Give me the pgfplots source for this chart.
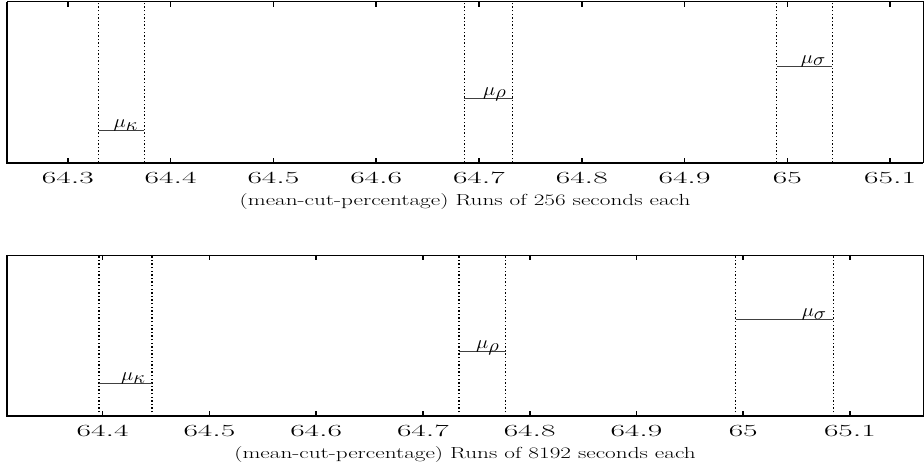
\RequirePackage{fix-cm}
\documentclass[border=0pt]{standalone}
\usepackage{pgfplots}
\pgfplotsset{compat=1.18}
\usepackage{graphicx}
\pgfplotsset{
  myax/.style={
    anchor=south west, scale only axis, width=916pt, height=161pt,
    ymin=0, ymax=1, ytick=\empty,
    axis line style={line width=0.6pt},
    tick align=inside, xtick pos=both,
    major tick length=5pt,
    every tick/.style={line width=1.6pt, black},
    xticklabel={\scalebox{1.85}[1]{\fontsize{17}{20}\selectfont\pgfmathprintnumber[fixed,precision=1]{\tick}}},
    xticklabel style={yshift=-6pt},
    xlabel style={font=\fontsize{16}{19}\selectfont, yshift=-3pt},
    clip=false,
  },
}
\tikzset{
  dline/.style={black, line width=1.4pt, dash pattern=on 1.4pt off 2.2pt},
  seg/.style={black!75, line width=0.8pt},
  lab/.style={anchor=base east, inner sep=0pt, xshift=-6pt, yshift=3pt, text=black, font=\fontsize{18}{21}\selectfont},
}
\newcommand{\wide}[1]{\scalebox{1.45}[1]{#1}}
\newcommand{\lbl}[1]{\scalebox{1.15}[1]{$\mu_{\textstyle#1}$}}
\begin{document}
\begin{tikzpicture}
\begin{axis}[myax, at={(7pt,308.3pt)},
  xmin=64.2408, xmax=65.1320,
  xtick={64.3,64.4,64.5,64.6,64.7,64.8,64.9,65,65.1},
  xlabel={\wide{(mean-cut-percentage) Runs of 256 seconds each}}]
\addplot[dline] coordinates {(64.3300,0) (64.3300,1)};
\addplot[dline] coordinates {(64.3745,0) (64.3745,1)};
\addplot[seg] coordinates {(64.3300,0.2) (64.3745,0.2)} node[lab,pos=1] {\lbl{\kappa}};
\addplot[dline] coordinates {(64.6858,0) (64.6858,1)};
\addplot[dline] coordinates {(64.7328,0) (64.7328,1)};
\addplot[seg] coordinates {(64.6858,0.4) (64.7328,0.4)} node[lab,pos=1] {\lbl{\rho}};
\addplot[dline] coordinates {(64.9897,0) (64.9897,1)};
\addplot[dline] coordinates {(65.0437,0) (65.0437,1)};
\addplot[seg] coordinates {(64.9897,0.6) (65.0437,0.6)} node[lab,pos=1] {\lbl{\sigma}};
\draw[line width=1.8pt] (rel axis cs:0,1) -- (rel axis cs:0,0) -- (rel axis cs:1,0);
\end{axis}
\begin{axis}[myax, at={(7pt,55pt)},
  xmin=64.3104, xmax=65.1684,
  xtick={64.4,64.5,64.6,64.7,64.8,64.9,65,65.1},
  xlabel={\wide{(mean-cut-percentage) Runs of 8192 seconds each}}]
\addplot[dline] coordinates {(64.3965,0) (64.3965,1)};
\addplot[dline] coordinates {(64.4462,0) (64.4462,1)};
\addplot[seg] coordinates {(64.3965,0.2) (64.4462,0.2)} node[lab,pos=1] {\lbl{\kappa}};
\addplot[dline] coordinates {(64.7337,0) (64.7337,1)};
\addplot[dline] coordinates {(64.7775,0) (64.7775,1)};
\addplot[seg] coordinates {(64.7337,0.4) (64.7775,0.4)} node[lab,pos=1] {\lbl{\rho}};
\addplot[dline] coordinates {(64.9929,0) (64.9929,1)};
\addplot[dline] coordinates {(65.0843,0) (65.0843,1)};
\addplot[seg] coordinates {(64.9929,0.6) (65.0843,0.6)} node[lab,pos=1] {\lbl{\sigma}};
\draw[line width=1.8pt] (rel axis cs:0,1) -- (rel axis cs:0,0) -- (rel axis cs:1,0);
\end{axis}
\pgfresetboundingbox
\path (0,0) rectangle (924pt,471pt);
\end{tikzpicture}
\end{document}
